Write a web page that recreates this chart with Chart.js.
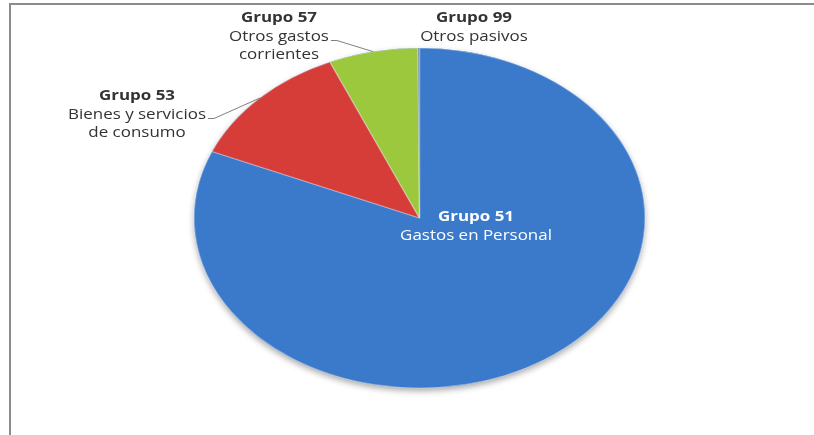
<!DOCTYPE html>
<html>
<head>
<meta charset="utf-8">
<script src="https://cdn.jsdelivr.net/npm/chart.js@4.4.1/dist/chart.umd.min.js"></script>
<style>
  html, body { margin: 0; padding: 0; background: #fff; overflow: hidden; }
  #frame { position: absolute; left: 9px; top: 3px; width: 900px; height: 600px; border: 2px solid #8c8c8c; }
  #wrap { position: absolute; left: 0; top: 0; width: 814px; height: 435px; }
</style>
</head>
<body>
<div id="frame"></div>
<div id="wrap"><canvas id="chart" width="814" height="435"></canvas></div>
<script>
// data
const categories = ['Grupo 51', 'Grupo 53', 'Grupo 57', 'Grupo 99'];
const descriptions = [['Gastos en Personal'], ['Bienes y servicios', 'de consumo'], ['Otros gastos', 'corrientes'], ['Otros pasivos']];
const shares = [81.4, 12.1, 6.4, 0.1];
const colors = ['#3b79cb', '#d63d38', '#9bc83d', '#4a5f8c'];

// label placement (block centre x, first line y), leader = draw a line to the slice
const labelPos = [
  { x: 476, y: 217, inside: true },
  { x: 137, y: 96, leader: true },
  { x: 279, y: 18, leader: true },
  { x: 474, y: 18 }
];

const stretchX = 1.326; // the pie in the picture is an ellipse
const textStretch = 1.13; // the lettering is widened the same way
const lineH = 18.5;

const ellipsePlugin = {
  id: 'ellipse',
  beforeDatasetsDraw(chart) {
    const ctx = chart.ctx;
    const a = chart.getDatasetMeta(0).data[0];
    // soft shadow under the whole pie
    ctx.save();
    ctx.shadowColor = 'rgba(0,0,0,0.35)';
    ctx.shadowBlur = 6;
    ctx.shadowOffsetY = 3;
    ctx.fillStyle = colors[0];
    ctx.beginPath();
    ctx.ellipse(a.x, a.y, a.outerRadius * stretchX, a.outerRadius, 0, 0, Math.PI * 2);
    ctx.fill();
    ctx.restore();

    ctx.save();
    ctx.translate(a.x, a.y);
    ctx.scale(stretchX, 1);
    ctx.translate(-a.x, -a.y);
  },
  afterDatasetsDraw(chart) {
    chart.ctx.restore();
  }
};

const labelPlugin = {
  id: 'sliceLabels',
  afterDraw(chart) {
    const ctx = chart.ctx;
    const arcs = chart.getDatasetMeta(0).data;
    ctx.save();
    ctx.textAlign = 'center';
    ctx.textBaseline = 'middle';
    categories.forEach((cat, i) => {
      const p = labelPos[i];
      const lines = [cat].concat(descriptions[i]);
      ctx.fillStyle = p.inside ? '#ffffff' : '#333333';
      let widest = 0;
      lines.forEach((ln, k) => {
        ctx.font = (k === 0 ? 'bold ' : '') + '15px "Open Sans", sans-serif';
        ctx.save();
        ctx.translate(p.x, p.y + k * lineH);
        ctx.scale(textStretch, 1);
        ctx.fillText(ln, 0, 0);
        ctx.restore();
        if (k === 1) widest = ctx.measureText(ln).width * textStretch;
      });
      if (p.leader) {
        const a = arcs[i];
        const mid = (a.startAngle + a.endAngle) / 2;
        const tx = a.x + Math.cos(mid) * a.outerRadius * stretchX;
        const ty = a.y + Math.sin(mid) * a.outerRadius;
        const sx = p.x + widest / 2 + 2;
        const sy = p.y + lineH + 4;
        ctx.strokeStyle = '#7f7f7f';
        ctx.lineWidth = 1;
        ctx.beginPath();
        ctx.moveTo(sx, sy);
        ctx.lineTo(sx + 6, sy);
        ctx.lineTo(tx, ty);
        ctx.stroke();
      }
    });
    ctx.restore();
  }
};

new Chart(document.getElementById('chart'), {
  type: 'pie',
  data: {
    labels: categories,
    datasets: [{
      data: shares,
      backgroundColor: colors,
      borderColor: 'rgba(255,255,255,0.35)',
      borderWidth: 1
    }]
  },
  options: {
    responsive: false,
    animation: false,
    layout: { padding: { top: 47, bottom: 46, left: 249, right: 224 } },
    plugins: {
      legend: { display: false },
      tooltip: { enabled: false }
    }
  },
  plugins: [ellipsePlugin, labelPlugin]
});
</script>
</body>
</html>
